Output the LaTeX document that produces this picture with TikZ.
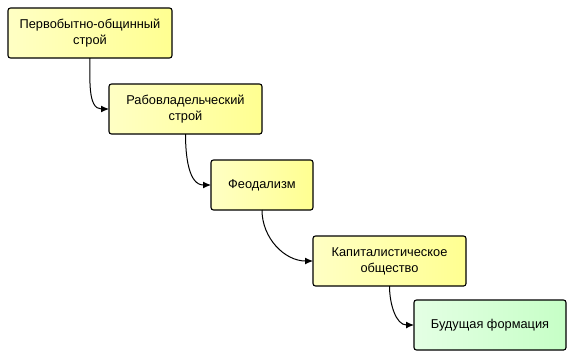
\documentclass[tikz,border=0pt]{standalone}
\usepackage{fontspec}
\setmainfont{Liberation Sans}
\usetikzlibrary{arrows.meta,positioning}
\definecolor{stagelight}{RGB}{255,255,196}
\definecolor{stageyellow}{RGB}{255,255,145}
\definecolor{futurelight}{RGB}{228,255,228}
\definecolor{futuregreen}{RGB}{198,255,198}

\begin{document}
\begin{tikzpicture}[x=1pt, y=1pt, font=\fontsize{12.8}{16}\selectfont,
    stage/.style={draw, line width=1.1pt, outer sep=0pt, rounded corners=2.5pt, left color=stagelight, right color=stageyellow, minimum height=50pt, align=center},
    future/.style={stage, left color=futurelight, right color=futuregreen},
    flow/.style={-{Latex[length=8pt,width=7pt]}, line width=1pt, out=-90, in=180}]
        \useasboundingbox (0,0) rectangle (570,-360);
        \node[stage, anchor=north west, minimum width=164pt] (primitive) at (8,-8) {Первобытно-общинный\\строй};
        \node[stage, below right=26pt and -63pt of primitive, minimum width=153pt] (slavery) {Рабовладельческий\\строй};
        \node[stage, below right=26pt and -51pt of slavery, minimum width=102pt] (feudal) {Феодализм};
        \node[stage, below right=26pt and 0pt of feudal, minimum width=153pt] (capital) {Капиталистическое\\общество};
        \node[future, below right=14pt and -52pt of capital, minimum width=152pt] (future) {Будущая формация};
        \draw[flow] (primitive.south) to (slavery.west);
        \draw[flow] (slavery.south) to (feudal.west);
        \draw[flow] (feudal.south) to (capital.west);
        \draw[flow] (capital.south) to (future.west);
\end{tikzpicture}
\end{document}
